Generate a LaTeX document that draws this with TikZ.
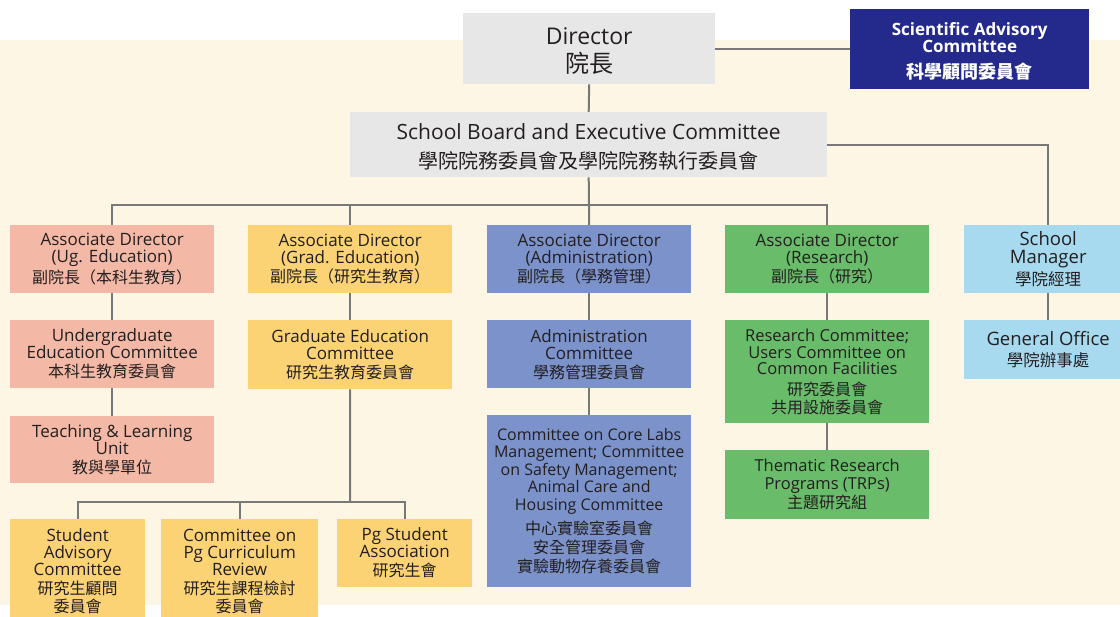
\documentclass[tikz,border=0pt]{standalone}
\usepackage{fontspec}
\setmainfont{Open Sans}
\newfontfamily\cjk{Noto Sans CJK TC}
\definecolor{cream}{HTML}{FEF6E4}
\definecolor{boxgray}{HTML}{E8E7E8}
\definecolor{navy}{HTML}{242A8B}
\definecolor{salmon}{HTML}{F4B9A6}
\definecolor{gold}{HTML}{FBD375}
\definecolor{peri}{HTML}{7C92CB}
\definecolor{leaf}{HTML}{69BC69}
\definecolor{sky}{HTML}{A7D9EF}
\definecolor{linegray}{HTML}{787878}
\definecolor{ink}{HTML}{231F20}
\newcommand\zh[1]{{\cjk\fontsize{16}{17}\selectfont #1}}
\tikzset{
  x=1pt, y=-1pt,
  box/.style={anchor=north west, inner sep=0pt, align=center, text=ink,
    font=\fontsize{17}{17}\selectfont},
  narrowbox/.style={box, font=\fontsize{16.5}{16.5}\selectfont},
  link/.style={draw=linegray, line width=2pt},
}
\begin{document}
\begin{tikzpicture}
\useasboundingbox (0,0) rectangle (1120,617);
\clip (0,0) rectangle (1120,617);
\fill[cream] (0,40) rectangle (1120,605);

\node[box, fill=boxgray, minimum width=252, minimum height=71, font=\fontsize{23}{28}\selectfont] (dir) at (463,13) {\rule{0pt}{22.5pt}Director\\{\cjk\fontsize{24}{28}\selectfont 院長}};
\node[box, fill=navy, text=white, minimum width=239, minimum height=80, font=\fontsize{17}{17}\selectfont\bfseries] (sac) at (850,9) {\rule{0pt}{18pt}Scientific Advisory\\Committee\\[9pt]{\cjk\bfseries\fontsize{18}{18}\selectfont 科學顧問委員會}};
\node[box, fill=boxgray, minimum width=477, minimum height=65, font=\fontsize{21}{29}\selectfont] (sb) at (350,112) {\rule{0pt}{21pt}School Board and Executive Committee\\{\cjk\fontsize{20}{20}\selectfont 學院院務委員會及學院院務執行委員會}};

\node[box, fill=salmon, minimum width=204, minimum height=68] (ug) at (10,225) {Associate Director\\(Ug. Education)\\[2pt]\zh{副院長（本科生教育）}};
\node[box, fill=gold, minimum width=204, minimum height=68] (grad) at (248,225) {Associate Director\\(Grad. Education)\\[2pt]\zh{副院長（研究生教育）}};
\node[box, fill=peri, minimum width=204, minimum height=68] (adm) at (487,225) {Associate Director\\(Administration)\\[2pt]\zh{副院長（學務管理）}};
\node[box, fill=leaf, minimum width=204, minimum height=68] (res) at (725,225) {Associate Director\\(Research)\\[2pt]\zh{副院長（研究）}};
\node[box, fill=sky, minimum width=168, minimum height=68, font=\fontsize{18.5}{18}\selectfont] (sm) at (964,225) {School\\Manager\\[2pt]{\cjk\fontsize{16.5}{17}\selectfont 學院經理}};

\node[box, fill=salmon, minimum width=204, minimum height=68] (ugc) at (10,320) {Undergraduate\\Education Committee\\[2pt]\zh{本科生教育委員會}};
\node[box, fill=salmon, minimum width=204, minimum height=67] (tlu) at (10,416) {Teaching \& Learning\\Unit\\[2pt]\zh{教與學單位}};
\node[box, fill=gold, minimum width=204, minimum height=69] (gec) at (248,320) {Graduate Education\\Committee\\[2pt]\zh{研究生教育委員會}};
\node[box, fill=gold, minimum width=135, minimum height=104] (sa) at (10,519) {Student\\Advisory\\Committee\\[2pt]\zh{研究生顧問}\\[1pt]\zh{委員會}};
\node[box, fill=gold, minimum width=157, minimum height=104] (cpc) at (161,519) {Committee on\\Pg Curriculum\\Review\\[2pt]\zh{研究生課程檢討}\\[1pt]\zh{委員會}};
\node[box, fill=gold, minimum width=135, minimum height=68] (psa) at (337,519) {Pg Student\\Association\\[2pt]\zh{研究生會}};

\node[box, fill=peri, minimum width=204, minimum height=68] (adc) at (487,320) {Administration\\Committee\\[2pt]\zh{學務管理委員會}};
\node[narrowbox, fill=peri, minimum width=204, minimum height=172, font=\fontsize{16}{17.5}\selectfont] (core) at (487,415) {Committee on Core Labs\\Management; Committee\\on Safety Management;\\Animal Care and\\Housing Committee\\[7pt]\zh{中心實驗室委員會}\\[1.5pt]\zh{安全管理委員會}\\[1.5pt]\zh{實驗動物存養委員會}};

\node[narrowbox, fill=leaf, minimum width=204, minimum height=103] (rc) at (725,320) {Research Committee;\\Users Committee on\\Common Facilities\\[4pt]\zh{研究委員會}\\[1.5pt]\zh{共用設施委員會}};
\node[narrowbox, fill=leaf, minimum width=204, minimum height=69, font=\fontsize{16.5}{17.5}\selectfont] (trp) at (725,450) {Thematic Research\\Programs (TRPs)\\[2pt]\zh{主題研究組}};

\node[box, fill=sky, minimum width=168, minimum height=59, font=\fontsize{18.5}{20}\selectfont] (go) at (964,320) {General Office\\[1pt]{\cjk\fontsize{16.5}{17}\selectfont 學院辦事處}};

\coordinate (bus) at (588,205);
\coordinate (gbus) at (350,502);

\draw[link] (dir.south) -- (sb.north);
\draw[link] (dir.east) -- (dir.east -| sac.west);
\draw[link] (sb.east) -| (sm.north);
\draw[link] (sb.south) -- (adm.north);
\draw[link] (ug.north) -- (ug.north |- bus) -- (res.north |- bus) -- (res.north);
\draw[link] (grad.north) -- (grad.north |- bus);

\draw[link] (ug.south) -- (ugc.north);
\draw[link] (ugc.south) -- (tlu.north);
\draw[link] (grad.south) -- (gec.north);
\draw[link] (gec.south) -- (gbus);
\draw[link] (sa.north) -- (sa.north |- gbus) -- (psa.north |- gbus) -- (psa.north);
\draw[link] (cpc.north) -- (cpc.north |- gbus);

\draw[link] (adm.south) -- (adc.north);
\draw[link] (adc.south) -- (core.north);
\draw[link] (res.south) -- (rc.north);
\draw[link] (rc.south) -- (trp.north);
\draw[link] (sm.south) -- (go.north);
\end{tikzpicture}
\end{document}
